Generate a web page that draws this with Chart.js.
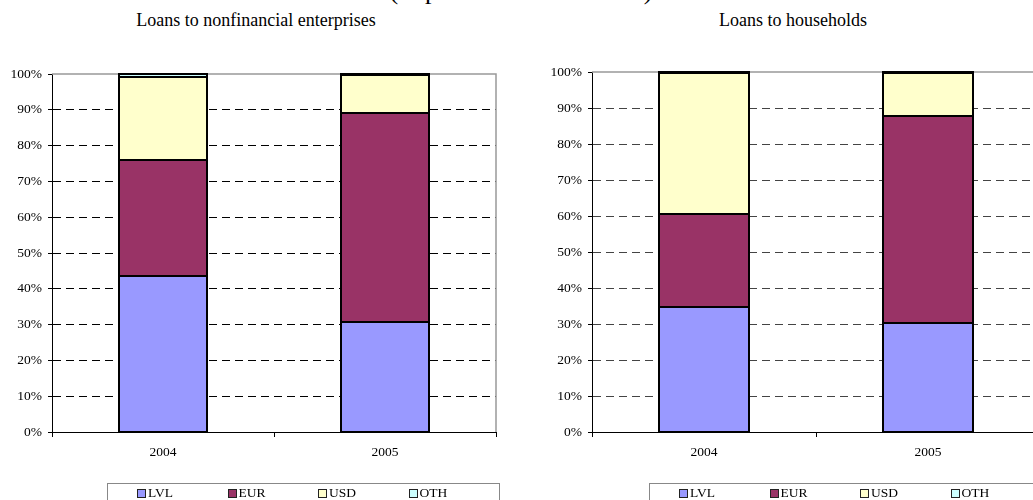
<!DOCTYPE html>
<html lang="en">
<head>
<meta charset="UTF-8">
<title>Loans by currency</title>
<script src="https://cdn.jsdelivr.net/npm/chart.js"></script>
<style>
    body { margin: 0; width: 1033px; height: 500px; overflow: hidden; position: relative; background: #fff;
           font-family: "Liberation Serif", "DejaVu Serif", serif; color: #000; }
    .cut { position: absolute; top: -22px; left: 0; width: 1042px; text-align: center; font-size: 26px; line-height: 26px; }
    .title { position: absolute; top: 9px; text-align: center; font-size: 18px; line-height: 22px; }
    .panel { position: absolute; top: 0; height: 500px; }
    .legend { position: absolute; top: 483px; width: 393px; height: 24px; border: 1px solid #888; box-sizing: border-box;
              padding-left: 29px; display: flex; }
    .item { width: 98px; display: flex; align-items: center; height: 18px; font-size: 13.5px; line-height: 18px;
            font-family: "Liberation Serif", serif; }
    .sw { width: 7px; height: 7px; border: 1.5px solid #222; margin-right: 2px; }
</style>
</head>
<body>

<div class="cut">(in percent of total loans)</div>
<div class="title" style="left: 0; width: 512px;">Loans to nonfinancial enterprises</div>
<div class="title" style="left: 540px; width: 506px;">Loans to households</div>

<div class="panel" style="left: 0; width: 520px;"><canvas id="left" width="520" height="500"></canvas></div>
<div class="panel" style="left: 540px; width: 506px;"><canvas id="right" width="506" height="500"></canvas></div>

<div class="legend" id="legLeft" style="left: 107px;"></div>
<div class="legend" id="legRight" style="left: 649px;"></div>

<script>
    // data (percent of total)
    const years = ['2004', '2005'];
    const currencies = ['LVL', 'EUR', 'USD', 'OTH'];
    const enterprisesLVL = [43.7, 30.6];
    const enterprisesEUR = [32.3, 58.5];
    const enterprisesUSD = [23.3, 10.6];
    const enterprisesOTH = [0.7, 0.3];
    const householdsLVL = [34.8, 30.2];
    const householdsEUR = [25.7, 57.7];
    const householdsUSD = [39.3, 11.9];
    const householdsOTH = [0.2, 0.2];
    const yTicks = [0, 10, 20, 30, 40, 50, 60, 70, 80, 90, 100];

    const fills = ['#9999FF', '#993366', '#FFFFCC', '#CCFFFF'];
    const font = { family: "'Liberation Serif', serif", size: 13.5 };

    // gray top and right edge of the plot area, behind the bars
    const frame = {
        id: 'frame',
        beforeDatasetsDraw(chart) {
            const { ctx, chartArea: a } = chart;
            ctx.save();
            ctx.strokeStyle = '#999';
            ctx.lineWidth = 1.5;
            ctx.beginPath();
            ctx.moveTo(a.left, a.top);
            ctx.lineTo(a.right, a.top);
            ctx.lineTo(a.right, a.bottom);
            ctx.stroke();
            ctx.restore();
        }
    };

    // crisp 2px black outline round every stacked segment, taken from the bar elements
    const outlines = {
        id: 'outlines',
        afterDatasetsDraw(chart) {
            const ctx = chart.ctx;
            ctx.save();
            ctx.strokeStyle = '#000';
            ctx.lineWidth = 2;
            chart.data.datasets.forEach((ds, i) => {
                chart.getDatasetMeta(i).data.forEach(bar => {
                    const { x, y, base, width } = bar.getProps(['x', 'y', 'base', 'width'], true);
                    const l = Math.round(x - width / 2), r = Math.round(x + width / 2);
                    const t = Math.round(y), b = Math.round(base);
                    ctx.strokeRect(l, t, r - l, b - t);
                });
            });
            ctx.restore();
        }
    };

    function makeChart(id, series, top, padRight, gridColor) {
        new Chart(document.getElementById(id), {
            type: 'bar',
            data: {
                labels: years,
                datasets: series.map((vals, i) => ({
                    label: currencies[i],
                    data: vals,
                    backgroundColor: fills[i],
                    borderWidth: 0,
                    categoryPercentage: 1,
                    barPercentage: 0.4
                }))
            },
            options: {
                responsive: false,
                animation: false,
                devicePixelRatio: 1,
                layout: { padding: { top: top, bottom: 40, left: 0, right: padRight } },
                plugins: { legend: { display: false }, tooltip: { enabled: false } },
                scales: {
                    x: {
                        stacked: true,
                        grid: { drawOnChartArea: false, offset: true, tickLength: 5, color: '#000' },
                        border: { color: '#000', width: 1 },
                        ticks: { font: font, color: '#000', padding: 7 },
                        afterFit: s => { s.height = 28; }
                    },
                    y: {
                        stacked: true,
                        min: 0,
                        max: 100,
                        afterBuildTicks: s => { s.ticks = yTicks.map(v => ({ value: v })); },
                        ticks: { font: font, color: '#000', padding: 6, callback: v => v + '%' },
                        grid: {
                            color: c => (c.tick.value === 0 || c.tick.value === 100) ? 'rgba(0,0,0,0)' : gridColor,
                            tickColor: '#000',
                            tickLength: 4
                        },
                        border: { color: '#000', width: 1, dash: [8, 5] },
                        afterFit: s => { s.width = 52; }
                    }
                }
            },
            plugins: [frame, outlines]
        });
    }

    // boxed legends under each panel
    ['legLeft', 'legRight'].forEach(id => {
        const box = document.getElementById(id);
        currencies.forEach((name, i) => {
            const item = document.createElement('div');
            item.className = 'item';
            item.innerHTML = '<span class="sw" style="background:' + fills[i] + '"></span>' + name;
            box.appendChild(item);
        });
    });

    // make sure the serif face is ready before the canvases draw text
    document.fonts.load("13.5px 'Liberation Serif'").then(() => {
        makeChart('left', [enterprisesLVL, enterprisesEUR, enterprisesUSD, enterprisesOTH], 74, 24, '#000');
        makeChart('right', [householdsLVL, householdsEUR, householdsUSD, householdsOTH], 72, 6, '#444');
    });
</script>
</body>
</html>
